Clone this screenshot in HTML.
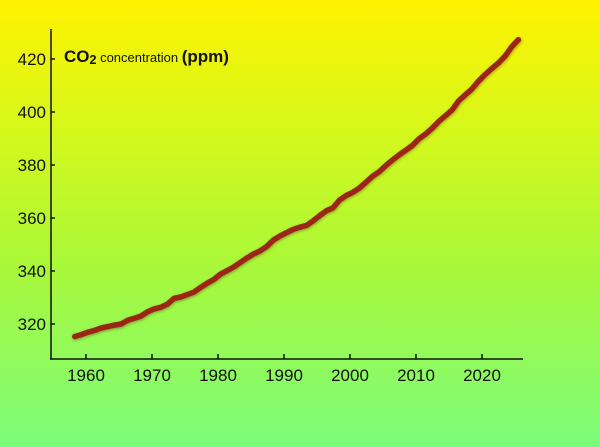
<!DOCTYPE html>
<html><head><meta charset="utf-8"><style>
html,body{margin:0;padding:0;width:600px;height:447px;overflow:hidden}
body{background:linear-gradient(to bottom,#fff200 0%,#d4f81c 30%,#a8f83a 60%,#7cfc7c 100%);font-family:"Liberation Sans",sans-serif}
</style></head><body>
<svg id="s" width="600" height="447" style="position:absolute;left:0;top:0">
<defs><filter id="sh" x="-5%" y="-5%" width="110%" height="110%"><feGaussianBlur stdDeviation="1"/></filter></defs>
<g stroke="#111" stroke-width="1.5" fill="none">
<line x1="51" y1="29" x2="51" y2="359"/>
<line x1="50" y1="359" x2="523" y2="359"/>
</g>
<g id="ticks" stroke="#111" stroke-width="1.5"></g>
<g id="lbl" font-size="17" fill="#111"></g>
<text x="64" y="62" font-size="17" font-weight="bold" fill="#111">CO<tspan font-size="12.5" dy="2">2</tspan><tspan dy="-2" font-weight="normal" font-size="13"> concentration </tspan>(ppm)</text>
<polyline id="p2" fill="none" stroke="#5a2a10" stroke-opacity="0.35" stroke-width="6.5" stroke-linejoin="round" stroke-linecap="round" filter="url(#sh)" transform="translate(0.5,1)"/>
<polyline id="p" fill="none" stroke="#9c2616" stroke-width="5.5" stroke-linejoin="round" stroke-linecap="round"/>
</svg>
<script>
var d=[315.3,316.0,316.9,317.6,318.5,319.0,319.6,320.0,321.4,322.2,323.0,324.6,325.7,326.3,327.5,329.7,330.2,331.1,332.0,333.8,335.4,336.8,338.8,340.1,341.5,343.2,344.9,346.4,347.6,349.3,351.7,353.2,354.5,355.7,356.5,357.2,358.9,360.9,362.7,363.8,366.8,368.5,369.7,371.3,373.5,375.8,377.5,379.8,381.9,383.8,385.6,387.4,389.9,391.7,393.9,396.5,398.6,400.8,404.2,406.5,408.7,411.7,414.2,416.4,418.5,421.1,424.6,427.3];
function X(y){return 86+6.6*(y-1960)}function Y(v){return 324-(v-320)*2.65}
var pts=d.map(function(v,i){return X(1958.3+i*(2025.5-1958.3)/(d.length-1)).toFixed(1)+","+Y(v).toFixed(1)}).join(" ");
document.getElementById("p").setAttribute("points",pts);document.getElementById("p2").setAttribute("points",pts);
var t="",l="";
for(var y=1960;y<=2020;y+=10){var x=X(y);t+='<line x1="'+x+'" y1="359" x2="'+x+'" y2="354"/>';l+='<text x="'+x+'" y="381" text-anchor="middle">'+y+'</text>';}
for(var v=320;v<=420;v+=20){var yy=Y(v);t+='<line x1="51" y1="'+yy+'" x2="55" y2="'+yy+'"/>';l+='<text x="46" y="'+(yy+6)+'" text-anchor="end">'+v+'</text>';}
document.getElementById("ticks").innerHTML=t;document.getElementById("lbl").innerHTML=l;
</script>
</body></html>
